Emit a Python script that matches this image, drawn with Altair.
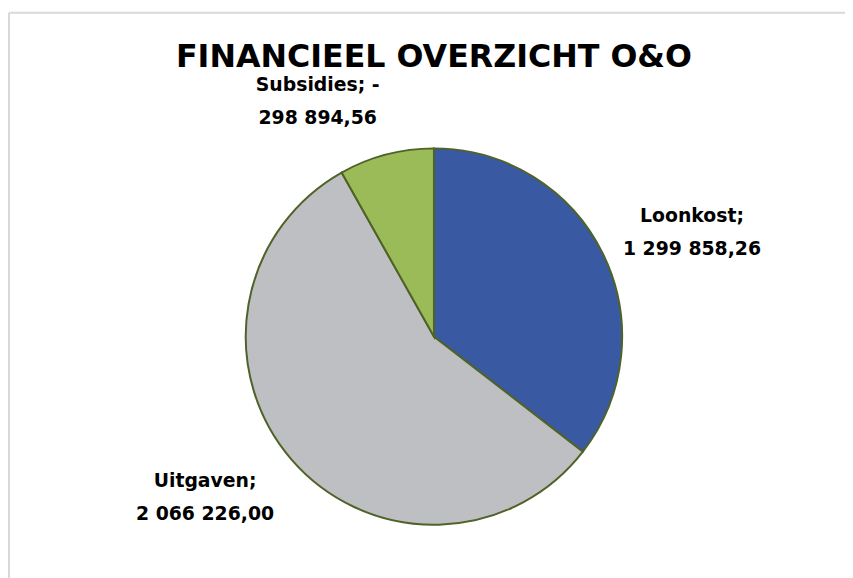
import altair as alt
import pandas as pd

categories = ["Loonkost", "Uitgaven", "Subsidies"]
values = [1299858.26, 2066226.00, 298894.56]
labels = ["Loonkost;\n1 299 858,26", "Uitgaven;\n2 066 226,00", "Subsidies; -\n298 894,56"]
colors = ["#3A59A3", "#BEBFC3", "#9BBB59"]
title_text = "FINANCIEEL OVERZICHT O&O"

df = pd.DataFrame({
    "cat": categories,
    "value": values,
    "label": labels,
    "order": list(range(len(categories))),
})
total = sum(values)

CX, CY, R = 426, 327, 190

base = alt.Chart(df).transform_stack(
    stack="value", groupby=[], as_=["v0", "v1"], sort=[alt.SortField("order")]
).transform_calculate(mid="(datum.v0 + datum.v1) / 2")

theta_scale = alt.Scale(domain=[0, total], range=[0, 6.283185307179586])

arcs = base.mark_arc(outerRadius=R, stroke="#4F6228", strokeWidth=2).encode(
    x=alt.value(CX), y=alt.value(CY),
    theta=alt.Theta("v0:Q", scale=theta_scale),
    theta2="v1:Q",
    color=alt.Color("cat:N", scale=alt.Scale(domain=categories, range=colors), legend=None),
)

offsets = {"Loonkost": (278, 11, 1), "Uitgaven": (275, -23, -34), "Subsidies": (246, -55, -16)}
text_layers = []
for c in categories:
    rad, dx, dy = offsets[c]
    t = base.transform_filter(alt.datum.cat == c).mark_text(
        radius=rad, dx=dx, dy=dy, font="DejaVu Sans", fontWeight="bold", fontSize=19,
        lineBreak="\n", lineHeight=33, align="center", baseline="middle", color="#000000",
    ).encode(
        x=alt.value(CX), y=alt.value(CY),
        theta=alt.Theta("mid:Q", scale=theta_scale),
        text="label:N",
    )
    text_layers.append(t)

title = alt.Chart(pd.DataFrame({"t": [title_text]})).mark_text(
    font="DejaVu Sans", fontWeight="bold", fontSize=32, align="center", baseline="alphabetic", color="#000000"
).encode(x=alt.value(CX), y=alt.value(55), text="t:N")

border_top = alt.Chart(pd.DataFrame({"a": [0]})).mark_rule(color="#D9D9D9", strokeWidth=2).encode(
    x=alt.value(-3), x2=alt.value(900), y=alt.value(0)
)
border_left = alt.Chart(pd.DataFrame({"a": [0]})).mark_rule(color="#D9D9D9", strokeWidth=2).encode(
    x=alt.value(-3), y=alt.value(0), y2=alt.value(600)
)

chart = alt.layer(border_top, border_left, arcs, *text_layers, title).properties(
    width=841, height=568,
    padding={"left": 4, "top": 2, "right": 0, "bottom": 0},
    autosize=alt.AutoSizeParams(type="none"),
    background="white",
).configure_view(stroke=None)

chart.save("out.html", embed_options={"renderer": "svg", "actions": False})
